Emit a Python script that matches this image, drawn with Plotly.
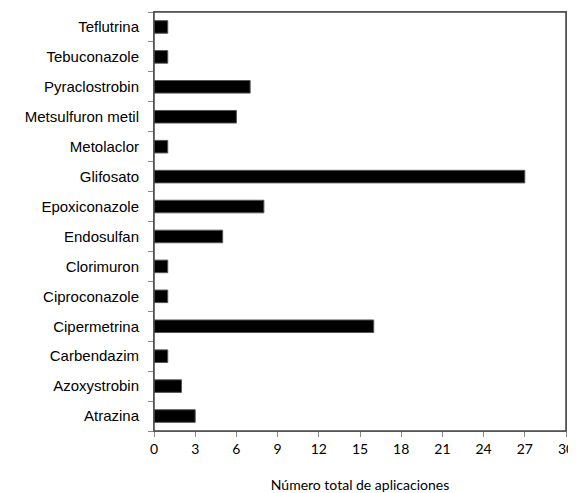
import plotly.graph_objects as go

# categories listed bottom -> top
categories = ["Atrazina", "Azoxystrobin", "Carbendazim", "Cipermetrina", "Ciproconazole",
              "Clorimuron", "Endosulfan", "Epoxiconazole", "Glifosato", "Metolaclor",
              "Metsulfuron metil", "Pyraclostrobin", "Tebuconazole", "Teflutrina"]
values = [3, 2, 1, 16, 1, 1, 5, 8, 27, 1, 6, 7, 1, 1]
x_ticks = [0, 3, 6, 9, 12, 15, 18, 21, 24, 27, 30]

fig = go.Figure(go.Bar(
    x=values, y=categories, orientation="h",
    marker=dict(color="black", line=dict(color="#555555", width=1)),
))

fig.update_layout(
    width=568, height=485,
    margin=dict(l=146, r=10, t=4, b=62),
    paper_bgcolor="white", plot_bgcolor="white",
    bargap=0.58,
    showlegend=False,
)
fig.add_shape(type="rect", xref="paper", yref="paper", x0=0, x1=1, y0=0, y1=1,
              line=dict(color="#444444", width=1.5), layer="above")
fig.update_xaxes(
    range=[0, 30], tickvals=x_ticks, ticktext=[str(v) for v in x_ticks],
    showgrid=False, zeroline=False, automargin=False,
    showline=True, linecolor="#888888", linewidth=1, mirror=True,
    ticks="outside", ticklen=5, tickcolor="#888888",
    tickfont=dict(family="Lato, Open Sans, sans-serif", size=14, color="black"),
    title=dict(text="Número total de aplicaciones",
               font=dict(family="Lato, Open Sans, sans-serif", size=14, color="black"),
               standoff=24),
)
fig.update_yaxes(
    categoryorder="array", categoryarray=categories,
    showgrid=False, zeroline=False, automargin=False,
    showline=True, linecolor="#888888", linewidth=1, mirror=True,
    ticks="outside", ticklen=5, tickcolor="#888888", tickson="boundaries",
    ticklabelstandoff=11,
    tickfont=dict(family="Liberation Sans", size=15, color="black"),
)

fig.write_html("out.html")
